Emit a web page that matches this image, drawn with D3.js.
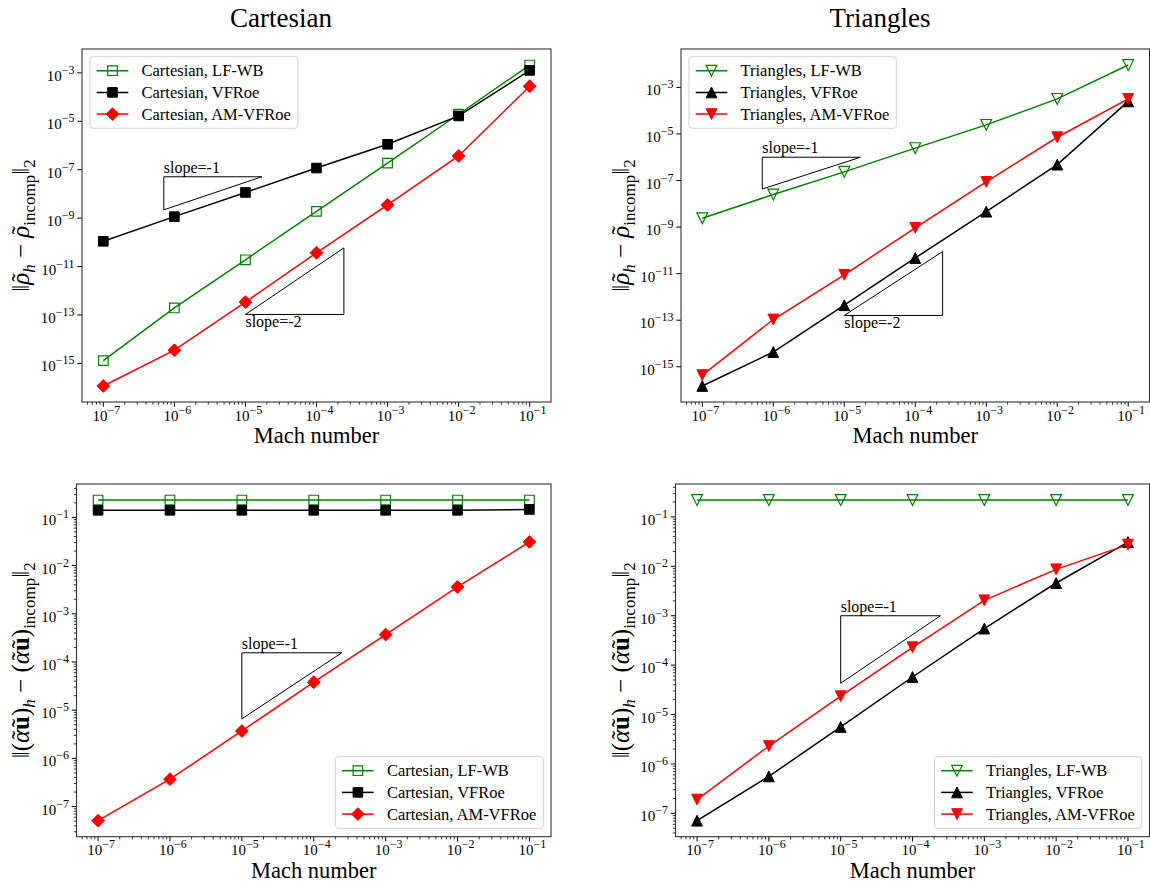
<!DOCTYPE html>
<html>
<head>
<meta charset="utf-8">
<script src="https://cdn.jsdelivr.net/npm/d3@7"></script>
<style>
body{margin:0;background:#fff}
text{font-family:"Liberation Serif","DejaVu Serif",serif;fill:#000}
</style>
</head>
<body>
<svg id="fig" width="1150" height="883"></svg>
<script>
// Mach numbers (x values) and tick exponents
const mach = [1e-7, 1e-6, 1e-5, 1e-4, 1e-3, 1e-2, 1e-1];
const xTickExp = [-7, -6, -5, -4, -3, -2, -1];
const yTickExpRho = [-15, -13, -11, -9, -7, -5, -3];
const yTickExpMom = [-7, -6, -5, -4, -3, -2, -1];

// density error, cartesian mesh
const cartRhoLFWB = [1.3e-15, 1.95e-13, 1.9e-11, 1.9e-9, 1.86e-7, 1.95e-5, 2.1e-3];
const cartRhoVFRoe = [1.1e-10, 1.15e-9, 1.15e-8, 1.17e-7, 1.12e-6, 1.66e-5, 1.26e-3];
const cartRhoAM = [1.17e-16, 3.5e-15, 3.4e-13, 3.7e-11, 3.5e-9, 3.7e-7, 2.8e-4];

// density error, triangle mesh
const triRhoLFWB = [2.4e-9, 2.5e-8, 2.35e-7, 2.45e-6, 2.45e-5, 3.2e-4, 9.1e-3];
const triRhoVFRoe = [1.5e-16, 4.3e-15, 4.4e-13, 4.7e-11, 4.6e-9, 4.8e-7, 2.5e-4];
const triRhoAM = [4.4e-16, 1.07e-13, 8.9e-12, 9.3e-10, 8.7e-8, 7.2e-6, 3.2e-4];

// momentum error, cartesian mesh
const cartMomLFWB = [0.229, 0.229, 0.229, 0.229, 0.229, 0.229, 0.229];
const cartMomVFRoe = [0.14, 0.14, 0.14, 0.14, 0.14, 0.14, 0.146];
const cartMomAM = [5.1e-8, 3.7e-7, 3.7e-6, 3.8e-5, 3.7e-4, 3.6e-3, 3.1e-2];

// momentum error, triangle mesh
const triMomLFWB = [0.22, 0.22, 0.22, 0.22, 0.22, 0.22, 0.22];
const triMomVFRoe = [7.1e-8, 5.6e-7, 5.6e-6, 5.75e-5, 5.5e-4, 4.6e-3, 3.1e-2];
const triMomAM = [1.9e-7, 2.3e-6, 2.35e-5, 2.3e-4, 2.05e-3, 8.7e-3, 2.75e-2];

// slope guide triangles (data coords): [x0, x1, yLow, yHigh]
const cartRhoSlope1 = [7.1e-7, 1.7e-5, 2.2e-9, 5.1e-8];
const cartRhoSlope2 = [1e-5, 2.43e-4, 1.05e-13, 5.9e-11];
const triRhoSlope1 = [7e-7, 1.69e-5, 4.3e-8, 1e-6];
const triRhoSlope2 = [1e-5, 2.43e-4, 1.6e-13, 8.9e-11];
const cartMomSlope1 = [1e-5, 2.45e-4, 6.6e-6, 1.55e-4];
const triMomSlope1 = [1e-5, 2.45e-4, 4.3e-5, 1e-3];

const svg = d3.select("#fig");

function markerPath(kind) {
  if (kind === "square") { const h = 4.8; return `M${-h},${-h}H${h}V${h}H${-h}Z`; }
  if (kind === "diamond") { const h = 6.4; return `M0,${-h}L${h},0L0,${h}L${-h},0Z`; }
  const h = 5.4;
  if (kind === "up") return `M0,${-h}L${h},${h}L${-h},${h}Z`;
  return `M0,${h}L${h},${-h}L${-h},${-h}Z`;
}

function powText(sel, exp, anchor) {
  const t = sel.append("text").attr("text-anchor", anchor).style("font-size", "15px");
  t.append("tspan").text("10");
  t.append("tspan").attr("dy", -7).style("font-size", "12px").text("\u2212" + Math.abs(exp));
  return t;
}

// math-ish label built from tspans; tilde drawn as a spacing accent over the glyph
function mathLabel(g, parts, fs) {
  let shift = 0, carry = 0;
  parts.forEach(p => {
    const want = p.sub ? 6 : 0;
    const ts = g.append("tspan").text(p.t).attr("dy", want - shift).attr("dx", carry);
    carry = 0;
    shift = want;
    if (p.sub) ts.style("font-size", "17px");
    if (p.it) ts.style("font-style", "italic");
    if (p.bold) ts.style("font-weight", "bold");
    if (p.tilde) {
      const w = ts.node().getComputedTextLength();
      const tl = g.append("tspan").text("\u02DC").style("font-size", fs + "px");
      const tw = tl.node().getComputedTextLength();
      const dx = -w / 2 - tw / 2 + (p.it ? fs * 0.06 : 0);
      tl.attr("dx", dx).attr("dy", 0);
      carry = -(dx + tw);
    }
  });
}

function drawPanel(cfg) {
  const b = cfg.box;
  const g = svg.append("g");
  const x = d3.scaleLog().domain([Math.pow(10, -7.3), Math.pow(10, -0.7)]).range([b.l, b.r]);
  const allLog = cfg.series.flatMap(s => s.vals.map(v => Math.log10(v)));
  const lo = d3.min(allLog), hi = d3.max(allLog), pad = (hi - lo) * 0.05;
  const y = d3.scaleLog().domain([Math.pow(10, lo - pad), Math.pow(10, hi + pad)]).range([b.b, b.t]);

  // x ticks
  const xMinor = [];
  for (let e = -8; e <= 0; e++) for (let k = 2; k <= 9; k++) {
    const v = k * Math.pow(10, e);
    if (v >= x.domain()[0] && v <= x.domain()[1]) xMinor.push(v);
  }
  g.selectAll(".xmin").data(xMinor).enter().append("line")
    .attr("x1", d => x(d)).attr("x2", d => x(d)).attr("y1", b.b).attr("y2", b.b + 2.7)
    .attr("stroke", "#000").attr("stroke-width", 0.8);
  g.selectAll(".xmaj").data(xTickExp).enter().append("line")
    .attr("x1", d => x(Math.pow(10, d))).attr("x2", d => x(Math.pow(10, d)))
    .attr("y1", b.b).attr("y2", b.b + 4.7).attr("stroke", "#000").attr("stroke-width", 1);
  xTickExp.forEach(e => {
    powText(g, e, "middle").attr("x", x(Math.pow(10, e)) + 3).attr("y", b.b + 18.5);
  });

  // y ticks
  if (cfg.yMinor) {
    const yMinor = [];
    for (let e = -9; e <= 0; e++) for (let k = 2; k <= 9; k++) {
      const v = k * Math.pow(10, e);
      if (v >= y.domain()[0] && v <= y.domain()[1]) yMinor.push(v);
    }
    g.selectAll(".ymin").data(yMinor).enter().append("line")
      .attr("x1", b.l - 2.7).attr("x2", b.l).attr("y1", d => y(d)).attr("y2", d => y(d))
      .attr("stroke", "#000").attr("stroke-width", 0.8);
  }
  g.selectAll(".ymaj").data(cfg.yTicks).enter().append("line")
    .attr("x1", b.l - 4.7).attr("x2", b.l)
    .attr("y1", d => y(Math.pow(10, d))).attr("y2", d => y(Math.pow(10, d)))
    .attr("stroke", "#000").attr("stroke-width", 1);
  cfg.yTicks.forEach(e => {
    powText(g, e, "end").attr("x", b.l - 7.5).attr("y", y(Math.pow(10, e)) + 8);
  });

  // slope triangles
  cfg.slopes.forEach(s => {
    const [x0, x1, yl, yh] = s.tri;
    const pts = s.upper
      ? [[x0, yl], [x0, yh], [x1, yh]]
      : [[x0, yl], [x1, yl], [x1, yh]];
    g.append("path")
      .attr("d", d3.line().x(d => x(d[0])).y(d => y(d[1]))(pts) + "Z")
      .attr("fill", "none").attr("stroke", "#000").attr("stroke-width", 1);
    g.append("text").style("font-size", "16px")
      .attr("x", x(x0)).attr("y", s.upper ? y(yh) - 4 : y(yl) + 13)
      .text(s.label);
  });

  // series
  const line = d3.line().x((d, i) => x(mach[i])).y(d => y(d));
  cfg.series.forEach(s => {
    g.append("path").attr("d", line(s.vals)).attr("fill", "none")
      .attr("stroke", s.color).attr("stroke-width", 1.5);
    g.selectAll(null).data(s.vals).enter().append("path")
      .attr("d", markerPath(s.marker))
      .attr("transform", (d, i) => `translate(${x(mach[i])},${y(d)})`)
      .attr("fill", s.open ? "none" : s.color)
      .attr("stroke", s.color).attr("stroke-width", s.open ? 1.2 : 1);
  });

  // frame
  g.append("rect").attr("x", b.l).attr("y", b.t).attr("width", b.r - b.l).attr("height", b.b - b.t)
    .attr("fill", "none").attr("stroke", "#333").attr("stroke-width", 1.1);

  // legend
  const lg = g.append("g");
  const box = lg.append("rect").attr("rx", 3).attr("fill", "#fff").attr("fill-opacity", 0.8)
    .attr("stroke", "#d0d0d0").attr("stroke-width", 1);
  let maxLen = 0;
  cfg.series.forEach((s, i) => {
    const yy = 14 + i * 21.7;
    lg.append("line").attr("x1", 6.7).attr("x2", 38.3).attr("y1", yy).attr("y2", yy)
      .attr("stroke", s.color).attr("stroke-width", 1.5);
    lg.append("path").attr("d", markerPath(s.marker)).attr("transform", `translate(22.5,${yy})`)
      .attr("fill", s.open ? "none" : s.color).attr("stroke", s.color)
      .attr("stroke-width", s.open ? 1.2 : 1);
    const t = lg.append("text").attr("x", 51.5).attr("y", yy + 5.5).style("font-size", "16.5px").text(s.label);
    maxLen = Math.max(maxLen, t.node().getComputedTextLength());
  });
  const lw = 51.5 + maxLen + 7, lh = 71.6;
  box.attr("width", lw).attr("height", lh);
  if (cfg.legend === "tl") lg.attr("transform", `translate(${b.l + 8},${b.t + 7.7})`);
  else lg.attr("transform", `translate(${b.r - 7.7 - lw},${b.b - 8.4 - lh})`);

  // axis labels
  g.append("text").attr("x", (b.l + b.r) / 2).attr("y", b.b + 41).attr("text-anchor", "middle")
    .style("font-size", "22.5px").text("Mach number");
  const fs = 25;
  const yl = g.append("text").attr("text-anchor", "middle").style("font-size", fs + "px")
    .attr("transform", `translate(${cfg.ylabelX},${(b.t + b.b) / 2}) rotate(-90)`);
  mathLabel(yl, cfg.ylabel, fs);

  if (cfg.title) {
    g.append("text").attr("x", cfg.titleX).attr("y", 27).attr("text-anchor", "middle")
      .style("font-size", "27px").text(cfg.title);
  }
}

const rhoLabel = [
  {t: "\u2016"}, {t: "\u03C1", it: true, tilde: true}, {t: "h", sub: true, it: true}, {t: " \u2212 "},
  {t: "\u03C1", it: true, tilde: true}, {t: "incomp", sub: true}, {t: "\u2016"}, {t: "2", sub: true}
];
const momLabel = [
  {t: "\u2016("}, {t: "\u03B1", it: true, tilde: true}, {t: "u", bold: true, tilde: true}, {t: ")"},
  {t: "h", sub: true, it: true}, {t: " \u2212 ("}, {t: "\u03B1", it: true, tilde: true},
  {t: "u", bold: true, tilde: true}, {t: ")"}, {t: "incomp", sub: true}, {t: "\u2016"}, {t: "2", sub: true}
];

drawPanel({
  box: {l: 82, t: 49, r: 551, b: 402}, title: "Cartesian", titleX: 281,
  yTicks: yTickExpRho, yMinor: false, legend: "tl", ylabel: rhoLabel, ylabelX: 29,
  series: [
    {vals: cartRhoLFWB, color: "#008000", marker: "square", open: true, label: "Cartesian, LF-WB"},
    {vals: cartRhoVFRoe, color: "#000000", marker: "square", open: false, label: "Cartesian, VFRoe"},
    {vals: cartRhoAM, color: "#ff0000", marker: "diamond", open: false, label: "Cartesian, AM-VFRoe"}
  ],
  slopes: [
    {tri: cartRhoSlope1, upper: true, label: "slope=-1"},
    {tri: cartRhoSlope2, upper: false, label: "slope=-2"}
  ]
});

drawPanel({
  box: {l: 681, t: 49, r: 1149.5, b: 402}, title: "Triangles", titleX: 880,
  yTicks: yTickExpRho, yMinor: false, legend: "tl", ylabel: rhoLabel, ylabelX: 629,
  series: [
    {vals: triRhoLFWB, color: "#008000", marker: "down", open: true, label: "Triangles, LF-WB"},
    {vals: triRhoVFRoe, color: "#000000", marker: "up", open: false, label: "Triangles, VFRoe"},
    {vals: triRhoAM, color: "#ff0000", marker: "down", open: false, label: "Triangles, AM-VFRoe"}
  ],
  slopes: [
    {tri: triRhoSlope1, upper: true, label: "slope=-1"},
    {tri: triRhoSlope2, upper: false, label: "slope=-2"}
  ]
});

drawPanel({
  box: {l: 76.5, t: 484, r: 551, b: 836.7},
  yTicks: yTickExpMom, yMinor: true, legend: "br", ylabel: momLabel, ylabelX: 29,
  series: [
    {vals: cartMomLFWB, color: "#008000", marker: "square", open: true, label: "Cartesian, LF-WB"},
    {vals: cartMomVFRoe, color: "#000000", marker: "square", open: false, label: "Cartesian, VFRoe"},
    {vals: cartMomAM, color: "#ff0000", marker: "diamond", open: false, label: "Cartesian, AM-VFRoe"}
  ],
  slopes: [{tri: cartMomSlope1, upper: true, label: "slope=-1"}]
});

drawPanel({
  box: {l: 675.5, t: 484, r: 1149.5, b: 836.7},
  yTicks: yTickExpMom, yMinor: true, legend: "br", ylabel: momLabel, ylabelX: 629,
  series: [
    {vals: triMomLFWB, color: "#008000", marker: "down", open: true, label: "Triangles, LF-WB"},
    {vals: triMomVFRoe, color: "#000000", marker: "up", open: false, label: "Triangles, VFRoe"},
    {vals: triMomAM, color: "#ff0000", marker: "down", open: false, label: "Triangles, AM-VFRoe"}
  ],
  slopes: [{tri: triMomSlope1, upper: true, label: "slope=-1"}]
});
</script>
</body>
</html>
